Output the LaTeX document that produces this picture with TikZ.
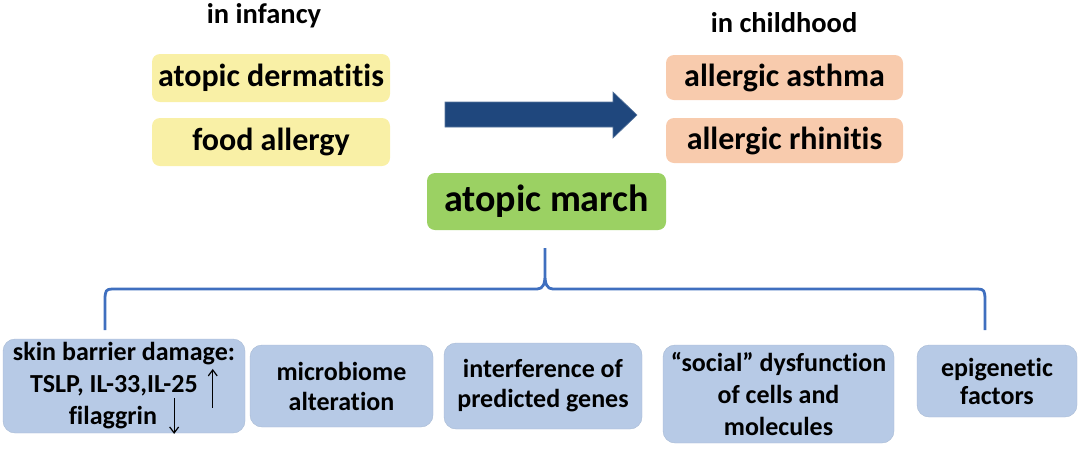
\documentclass[tikz,border=0pt]{standalone}
\usepackage{fontspec}
\usetikzlibrary{arrows.meta}
\setmainfont{Carlito}[Ligatures=NoCommon]
\definecolor{ylw}{HTML}{F9F0A6}
\definecolor{peach}{HTML}{F8CBAD}
\definecolor{grn}{HTML}{9BD163}
\definecolor{lblue}{HTML}{B7CAE6}
\definecolor{brace}{HTML}{3F6FBF}
\definecolor{darr}{HTML}{1F477D}
\newcommand{\uparr}{\smash{\tikz[baseline=0pt]\draw[-{Straight Barb[length=6pt,width=9pt]}, line width=1.2pt] (0pt,-15pt) -- (0pt,24pt);}}
\newcommand{\dnarr}{\smash{\tikz[baseline=0pt]\draw[-{Straight Barb[length=6pt,width=9pt]}, line width=1.2pt] (0pt,27pt) -- (0pt,-9pt);}}
\begin{document}
\begin{tikzpicture}[x=1pt,y=-1pt,
  box/.style={rounded corners=8pt, align=center, inner sep=0pt, font=\bfseries\fontsize{32}{36}\selectfont},
  lowbox/.style={rounded corners=12pt, fill=lblue, draw=lblue!92!black, line width=0.4pt, align=center, inner sep=0pt, font=\bfseries\fontsize{26}{30}\selectfont},
  head/.style={anchor=base, font=\bfseries\fontsize{28.5}{30}\selectfont}]
\useasboundingbox (0,0) rectangle (1084,448);
\node[head] (inf) at (264,23) {in infancy};
\node[head] (chi) at (784,32) {in childhood};
\node[box, fill=ylw, minimum width=238pt, minimum height=48pt] (ad) at (271,78) {atopic dermatitis};
\node[box, fill=ylw, minimum width=238pt, minimum height=48pt] (fa) at (271,142) {food allergy};
\node[box, fill=peach, minimum width=237pt, minimum height=45pt] (aa) at (784.5,77.5) {allergic asthma};
\node[box, fill=peach, minimum width=237pt, minimum height=45pt] (ar) at (784.5,140.5) {allergic rhinitis};
\node[box, fill=grn, minimum width=239pt, minimum height=57pt, font=\bfseries\fontsize{38}{40}\selectfont] (am) at (546.5,201.5) {atopic march};
% block arrow
\fill[darr, draw=darr!75!white, line width=0.6pt] (445,102) -- (613,102) -- (613,92) -- (637,115) -- (613,138) -- (613,127) -- (445,127) -- cycle;
% brace
\coordinate (bl) at (105,330);
\coordinate (br) at (985,330);
\coordinate (bt) at (545,248);
\draw[brace, line width=2.8pt, line join=round]
  (bl) -- (105,300) .. controls (105,291) and (106,289) .. (112,289)
  -- (537,289) .. controls (543,289) and (545,284) .. (545,275) -- (bt)
  (545,275) .. controls (545,284) and (547,289) .. (553,289)
  -- (978,289) .. controls (984,289) and (985,291) .. (985,300) -- (br);
% lower boxes
\node[lowbox, minimum width=242pt, minimum height=94pt, font=\bfseries\fontsize{26}{32}\selectfont] (skin) at (124,386) {skin barrier damage:\\
  TSLP, IL-33,IL-25\hspace{10pt}\uparr\\
  filaggrin\hspace{12pt}\dnarr};
\node[lowbox, minimum width=183pt, minimum height=82pt] (mic) at (341.5,386) {microbiome\\alteration};
\node[lowbox, minimum width=198pt, minimum height=86pt] (int) at (543,386) {interference of\\predicted genes};
\node[lowbox, minimum width=231pt, minimum height=98pt, font=\bfseries\fontsize{26}{32}\selectfont] (soc) at (778.5,394) {``social'' dysfunction\\of cells and\\molecules};
\node[lowbox, minimum width=160pt, minimum height=72pt, font=\bfseries\fontsize{26}{28}\selectfont] (epi) at (997,381) {epigenetic\\factors};
\end{tikzpicture}
\end{document}
